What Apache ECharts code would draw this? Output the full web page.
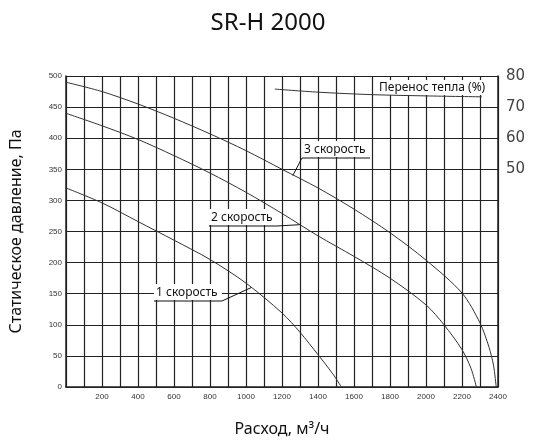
<!DOCTYPE html><html><head><meta charset="utf-8">
<script src="https://cdn.jsdelivr.net/npm/echarts@6/dist/echarts.min.js"></script>
<style>body{margin:0}#c{width:536px;height:447px}</style></head><body><div id="c"></div>
<script>
const speed3 = [[0,490],[200,475],[400,455],[600,432],[800,407],[1000,380],[1200,350],[1400,320],[1600,286],[1800,248],[2000,204],[2200,151],[2300,103],[2350,64],[2375,35],[2390,0]];
const speed2 = [[0,440],[200,420],[400,398],[600,372],[800,344],[1000,313],[1200,279],[1400,243],[1600,210],[1800,175],[2000,132],[2100,100],[2200,60],[2250,30],[2280,0]];
const speed1 = [[0,320],[200,296],[400,266],[600,236],[800,205],[1000,167],[1200,119],[1300,88],[1400,52],[1480,22],[1530,0]];
const heat = [[1160,75.8],[1400,74.8],[1700,74.0],[2000,73.6],[2310,73.3]];
const xTicks = [200,400,600,800,1000,1200,1400,1600,1800,2000,2200,2400];
const rightTicks = [50,60,70,80];
const names = ['3 скорость','2 скорость','1 скорость','Перенос тепла (%)'];
const ch = echarts.init(document.getElementById('c'));
const ln = {color:'#333',width:1};
const lab = {fontSize:8,color:'#333',fontFamily:'Liberation Sans'};
ch.setOption({
 animation:false,
 title:{text:'SR-H 2000',left:'center',top:6,textStyle:{fontSize:24,fontWeight:'normal',color:'#111',fontFamily:'Noto Sans'}},
 grid:{left:64,right:38,top:76,bottom:60},
 xAxis:{type:'value',min:0,max:2400,interval:100,name:'Расход, м³/ч',nameLocation:'middle',nameGap:34,
   nameTextStyle:{fontSize:16,color:'#111',fontFamily:'Noto Sans'},
   axisLine:{lineStyle:{color:'#222',width:1.5}},axisTick:{show:false},
   axisLabel:Object.assign({},lab,{margin:6,formatter:v=>xTicks.includes(v)?String(v):''}),
   splitLine:{lineStyle:{color:'#222',width:1.2}}},
 yAxis:[{type:'value',min:0,max:500,interval:50,name:'Статическое давление, Па',nameLocation:'middle',nameGap:42,
   nameTextStyle:{fontSize:16,color:'#111',fontFamily:'Noto Sans'},
   axisLine:{show:true,lineStyle:{color:'#222',width:1.5}},axisTick:{show:false},
   axisLabel:Object.assign({},lab,{margin:4}),splitLine:{lineStyle:{color:'#222',width:1.2}}},
  {type:'value',min:-20,max:80,interval:10,position:'right',
   axisLine:{show:true,lineStyle:{color:'#222',width:1.5}},axisTick:{show:false},splitLine:{show:false},
   axisLabel:{fontSize:15,color:'#444',margin:8,fontFamily:'DejaVu Sans',formatter:v=>rightTicks.includes(v)?String(v):''}}],
 series:[
  {name:names[0],type:'line',smooth:0.3,symbol:'none',data:speed3,lineStyle:ln},
  {name:names[1],type:'line',smooth:0.3,symbol:'none',data:speed2,lineStyle:ln},
  {name:names[2],type:'line',smooth:0.3,symbol:'none',data:speed1,lineStyle:ln},
  {name:names[3],type:'line',smooth:0.3,symbol:'none',yAxisIndex:1,data:heat,lineStyle:ln}
 ]
});
function P(x,y){return ch.convertToPixel({xAxisIndex:0,yAxisIndex:0},[x,y]);}
const tf={fontSize:12,fill:'#111',fontFamily:'Noto Sans'};
function tag(txt,tx,ty,w,ax,ay,fromLeft){
 const els=[];
 els.push({type:'rect',shape:{x:tx-2,y:ty-9,width:w+4,height:16},style:{fill:'#fff'}});
 els.push({type:'text',x:tx,y:ty,style:Object.assign({text:txt,textVerticalAlign:'middle'},tf)});
 els.push({type:'line',shape:{x1:tx-2,y1:ty+8,x2:tx+w+2,y2:ty+8},style:{stroke:'#111',lineWidth:1}});
 const sx=fromLeft?tx-2:tx+w+2;
 els.push({type:'line',shape:{x1:sx,y1:ty+8,x2:ax,y2:ay},style:{stroke:'#111',lineWidth:1}});
 return els;
}
const a3=P(1260,340),a2=P(1300,261),a1=P(1030,160);
ch.setOption({graphic:[].concat(
 tag(names[0],304,150,64,a3[0],a3[1],true),
 tag(names[1],211,218,64,a2[0],a2[1],false),
 tag(names[2],156,293,64,a1[0],a1[1],false),
 [{type:'rect',shape:{x:376,y:80,width:118,height:15},style:{fill:'#fff'}},
  {type:'text',x:379,y:88,style:Object.assign({text:names[3],textVerticalAlign:'middle'},tf)}]
)});
</script></body></html>
